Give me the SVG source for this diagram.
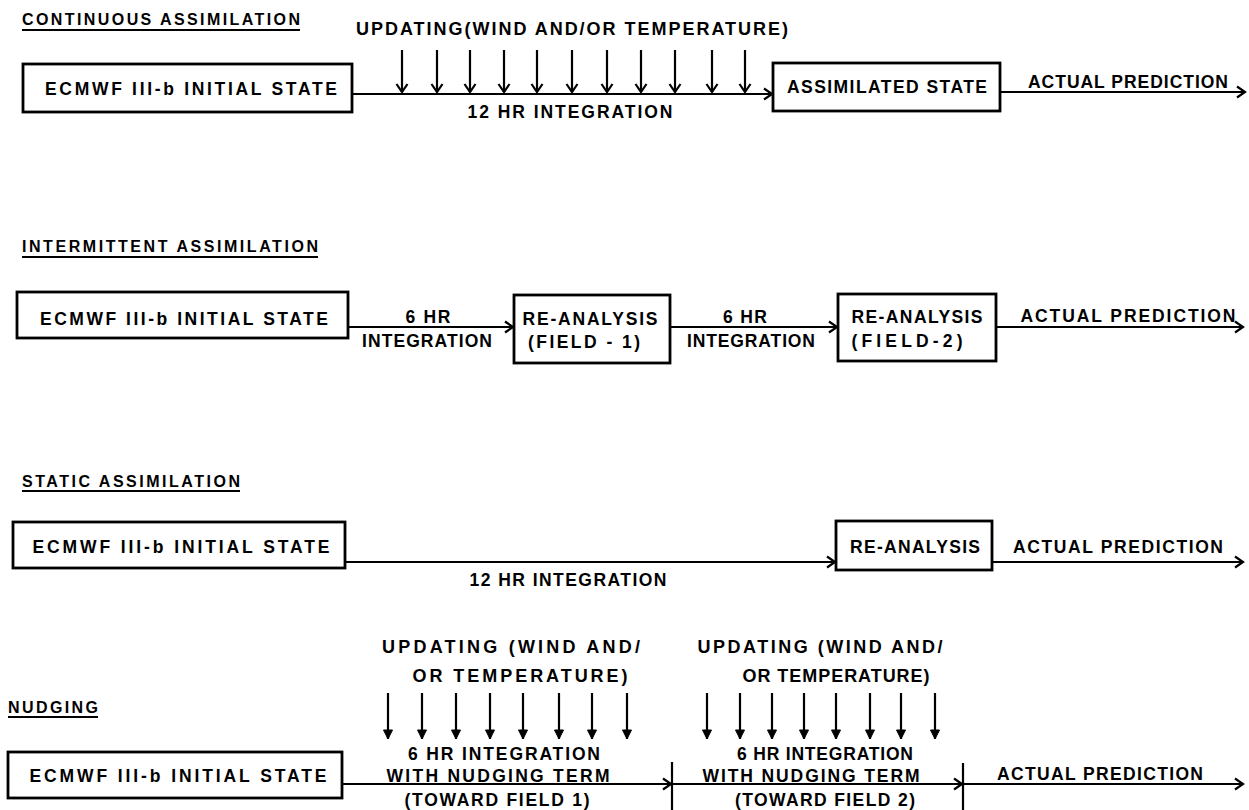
<svg xmlns="http://www.w3.org/2000/svg" width="1249" height="810" viewBox="0 0 1249 810">
<style>
text{font-family:"Liberation Sans",Arial,sans-serif;font-weight:bold;font-size:17.5px;fill:#000}
.t{font-size:16px}
.u{font-size:18px}
.c{text-anchor:middle}
.box{fill:#fff;stroke:#000;stroke-width:2.8}
.ln{fill:none;stroke:#000;stroke-width:2.2}
.ul{fill:none;stroke:#000;stroke-width:2}
</style>
<defs>
<marker id="open" markerUnits="userSpaceOnUse" markerWidth="14" markerHeight="14" viewBox="-11 -7 14 14" refX="0" refY="0" orient="auto">
<path d="M-8,-5.5 L0,0 L-8,5.5" fill="none" stroke="#000" stroke-width="2.2"/>
</marker>
<marker id="solid" markerUnits="userSpaceOnUse" markerWidth="14" markerHeight="14" viewBox="-11 -7 14 14" refX="0" refY="0" orient="auto">
<path d="M-9,-4.5 L0,0 L-9,4.5 Z" fill="#000" stroke="#000" stroke-width="1"/>
</marker>
</defs>
<rect width="1249" height="810" fill="#fff"/>

<g id="titles">
<text class="t" x="22" y="25" textLength="278" lengthAdjust="spacing">CONTINUOUS ASSIMILATION</text>
<line class="ul" x1="22" y1="30" x2="300" y2="30"/>
<text class="t" x="22" y="252" textLength="296" lengthAdjust="spacing">INTERMITTENT ASSIMILATION</text>
<line class="ul" x1="22" y1="257" x2="318" y2="257"/>
<text class="t" x="22" y="487" textLength="218" lengthAdjust="spacing">STATIC ASSIMILATION</text>
<line class="ul" x1="22" y1="491" x2="240" y2="491"/>
<text class="t" x="8" y="713" textLength="90" lengthAdjust="spacing">NUDGING</text>
<line class="ul" x1="8" y1="717" x2="98" y2="717"/>
</g>

<!-- Section 1 -->
<g id="c-init">
<rect class="box" x="23" y="64" width="329" height="48"/>
<text class="c" x="191" y="95" textLength="292" lengthAdjust="spacing">ECMWF III-b INITIAL STATE</text>
</g>
<g id="c-assim">
<rect class="box" x="773" y="63" width="227" height="48"/>
<text class="c" x="887" y="93" textLength="200" lengthAdjust="spacing">ASSIMILATED STATE</text>
</g>

<!-- Section 2 -->
<g id="i-init">
<rect class="box" x="17" y="292" width="331" height="46"/>
<text class="c" x="184" y="325" textLength="288" lengthAdjust="spacing">ECMWF III-b INITIAL STATE</text>
</g>
<g id="i-re1">
<rect class="box" x="514" y="295" width="156" height="68"/>
<text class="c" x="590" y="325" textLength="135" lengthAdjust="spacing">RE-ANALYSIS</text>
<text class="c" x="584" y="348" textLength="112" lengthAdjust="spacing">(FIELD - 1)</text>
</g>
<g id="i-re2">
<rect class="box" x="838" y="294" width="158" height="67"/>
<text class="c" x="917" y="323" textLength="131" lengthAdjust="spacing">RE-ANALYSIS</text>
<text class="c" x="907" y="347" textLength="111" lengthAdjust="spacing">(FIELD-2)</text>
</g>

<!-- Section 3 -->
<g id="s-init">
<rect class="box" x="13" y="522" width="332" height="46"/>
<text class="c" x="181" y="553" textLength="297" lengthAdjust="spacing">ECMWF III-b INITIAL STATE</text>
</g>
<g id="s-re">
<rect class="box" x="836" y="521" width="156" height="49"/>
<text class="c" x="915" y="553" textLength="130" lengthAdjust="spacing">RE-ANALYSIS</text>
</g>

<!-- Section 4 -->
<g id="n-init">
<rect class="box" x="8" y="752" width="334" height="46"/>
<text class="c" x="178" y="782" textLength="297" lengthAdjust="spacing">ECMWF III-b INITIAL STATE</text>
</g>

<g id="connectors">
<!-- section 1 -->
<line class="ln" x1="352" y1="94" x2="772" y2="94" marker-end="url(#open)"/>
<line class="ln" x1="1000" y1="92" x2="1245" y2="92" marker-end="url(#open)"/>
<g marker-end="url(#open)">
<line class="ln" x1="402" y1="50" x2="402" y2="92"/>
<line class="ln" x1="437" y1="50" x2="437" y2="92"/>
<line class="ln" x1="470" y1="50" x2="470" y2="92"/>
<line class="ln" x1="504" y1="50" x2="504" y2="92"/>
<line class="ln" x1="537" y1="50" x2="537" y2="92"/>
<line class="ln" x1="572" y1="50" x2="572" y2="92"/>
<line class="ln" x1="607" y1="50" x2="607" y2="92"/>
<line class="ln" x1="641" y1="50" x2="641" y2="92"/>
<line class="ln" x1="675" y1="50" x2="675" y2="92"/>
<line class="ln" x1="712" y1="50" x2="712" y2="92"/>
<line class="ln" x1="745" y1="50" x2="745" y2="92"/>
</g>
<!-- section 2 -->
<line class="ln" x1="348" y1="327" x2="513" y2="327" marker-end="url(#open)"/>
<line class="ln" x1="670" y1="327" x2="837" y2="327" marker-end="url(#open)"/>
<line class="ln" x1="996" y1="327" x2="1243" y2="327" marker-end="url(#open)"/>
<!-- section 3 -->
<line class="ln" x1="345" y1="562" x2="835" y2="562" marker-end="url(#open)"/>
<line class="ln" x1="992" y1="562" x2="1243" y2="562" marker-end="url(#open)"/>
<!-- section 4 -->
<line class="ln" x1="342" y1="784" x2="671" y2="784" marker-end="url(#open)"/>
<line class="ln" x1="672" y1="784" x2="962" y2="784" marker-end="url(#open)"/>
<line class="ln" x1="963" y1="784" x2="1243" y2="784" marker-end="url(#open)"/>
<line class="ln" stroke-width="2.5" x1="672" y1="762" x2="672" y2="810"/>
<line class="ln" stroke-width="2.5" x1="963" y1="763" x2="963" y2="810"/>
<g marker-end="url(#solid)">
<line class="ln" x1="388" y1="693" x2="388" y2="739"/>
<line class="ln" x1="422" y1="693" x2="422" y2="739"/>
<line class="ln" x1="456" y1="693" x2="456" y2="739"/>
<line class="ln" x1="490" y1="693" x2="490" y2="739"/>
<line class="ln" x1="523" y1="693" x2="523" y2="739"/>
<line class="ln" x1="559" y1="693" x2="559" y2="739"/>
<line class="ln" x1="592" y1="693" x2="592" y2="739"/>
<line class="ln" x1="627" y1="693" x2="627" y2="739"/>
<line class="ln" x1="707" y1="693" x2="707" y2="739"/>
<line class="ln" x1="740" y1="693" x2="740" y2="739"/>
<line class="ln" x1="772" y1="693" x2="772" y2="739"/>
<line class="ln" x1="804" y1="693" x2="804" y2="739"/>
<line class="ln" x1="836" y1="693" x2="836" y2="739"/>
<line class="ln" x1="870" y1="693" x2="870" y2="739"/>
<line class="ln" x1="901" y1="693" x2="901" y2="739"/>
<line class="ln" x1="935" y1="693" x2="935" y2="739"/>
</g>
</g>

<g id="labels">
<text class="u" x="356" y="35" textLength="432" lengthAdjust="spacing">UPDATING(WIND AND/OR TEMPERATURE)</text>
<text class="c" x="570" y="118" textLength="205" lengthAdjust="spacing">12 HR INTEGRATION</text>
<text class="c" x="1128" y="88" textLength="200" lengthAdjust="spacing">ACTUAL PREDICTION</text>

<text class="c" x="428" y="323" textLength="45" lengthAdjust="spacing">6 HR</text>
<text class="c" x="427" y="347" textLength="130" lengthAdjust="spacing">INTEGRATION</text>
<text class="c" x="745" y="323" textLength="44" lengthAdjust="spacing">6 HR</text>
<text class="c" x="751" y="347" textLength="128" lengthAdjust="spacing">INTEGRATION</text>
<text class="c" x="1128" y="322" textLength="215" lengthAdjust="spacing">ACTUAL PREDICTION</text>

<text class="c" x="568" y="586" textLength="197" lengthAdjust="spacing">12 HR INTEGRATION</text>
<text class="c" x="1118" y="553" textLength="210" lengthAdjust="spacing">ACTUAL PREDICTION</text>

<text class="c u" x="511" y="653" textLength="258" lengthAdjust="spacing">UPDATING (WIND AND/</text>
<text class="c u" x="520" y="682" textLength="215" lengthAdjust="spacing">OR TEMPERATURE)</text>
<text class="c" x="504" y="760" textLength="192" lengthAdjust="spacing">6 HR INTEGRATION</text>
<text class="c" x="498" y="782" textLength="223" lengthAdjust="spacing">WITH NUDGING TERM</text>
<text class="c" x="497" y="806" textLength="185" lengthAdjust="spacing">(TOWARD FIELD 1)</text>

<text class="c u" x="820" y="653" textLength="245" lengthAdjust="spacing">UPDATING (WIND AND/</text>
<text class="c u" x="836" y="682" textLength="187" lengthAdjust="spacing">OR TEMPERATURE)</text>
<text class="c" x="825" y="760" textLength="176" lengthAdjust="spacing">6 HR INTEGRATION</text>
<text class="c" x="811" y="782" textLength="217" lengthAdjust="spacing">WITH NUDGING TERM</text>
<text class="c" x="825" y="806" textLength="180" lengthAdjust="spacing">(TOWARD FIELD 2)</text>
<text class="c" x="1100" y="780" textLength="206" lengthAdjust="spacing">ACTUAL PREDICTION</text>
</g>
</svg>
